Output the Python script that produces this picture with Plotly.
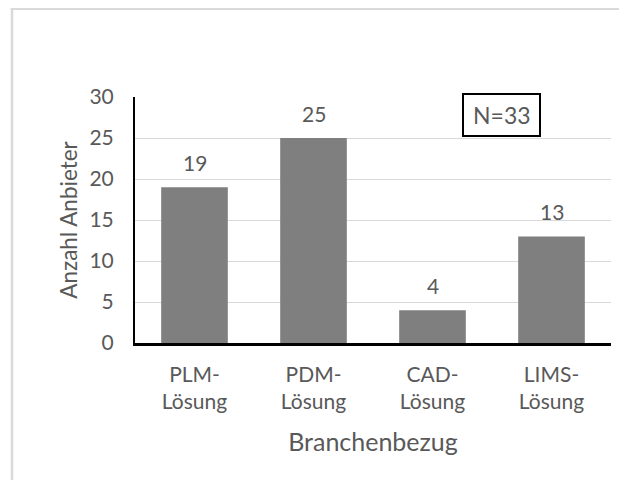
import plotly.graph_objects as go

categories = ["PLM-<br>Lösung", "PDM-<br>Lösung", "CAD-<br>Lösung", "LIMS-<br>Lösung"]
values = [19, 25, 4, 13]
y_ticks = [0, 5, 10, 15, 20, 25, 30]
x_title = "Branchenbezug"
y_title = "Anzahl Anbieter"
note = "N=33"

# page body has an 8px margin, so the figure starts at (8, 8)
OFF = 8
W, H = 627 - 2 * OFF, 488 - 2 * OFF
L, R, T, B = 135 - OFF, 611 - OFF, 97 - OFF, 343 - OFF
pw, ph = R - L, B - T

def px(x):
    return (x - OFF - L) / pw

def py(y):
    return (B - (y - OFF)) / ph

FONT = "Lato"
GREY = "#595959"

fig = go.Figure()
fig.add_trace(go.Bar(
    x=categories, y=values,
    marker=dict(color="#7f7f7f", line=dict(width=0)),
    hoverinfo="skip",
))

for c, v in zip(categories, values):
    fig.add_annotation(x=c, y=v, text=str(v), showarrow=False,
                       yshift=25, font=dict(family=FONT, size=21, color=GREY))

fig.add_annotation(xref="paper", yref="paper", x=px(501.5), y=py(115),
                   xanchor="center", yanchor="middle",
                   text=note, showarrow=False,
                   font=dict(family=FONT, size=23, color=GREY))
fig.add_shape(type="rect", xref="paper", yref="paper",
              x0=px(463), x1=px(540), y0=py(136), y1=py(94),
              line=dict(color="black", width=2), fillcolor="rgba(0,0,0,0)")

# outer chart border (only top and left edges visible)
border = dict(color="#d9d9d9", width=2.5)
fig.add_shape(type="line", xref="paper", yref="paper",
              x0=px(10.8), x1=px(627), y0=py(8.7), y1=py(8.7),
              line=border, layer="below")
fig.add_shape(type="line", xref="paper", yref="paper",
              x0=px(12), x1=px(12), y0=py(7.5), y1=py(488),
              line=border, layer="below")

fig.update_layout(
    width=W, height=H,
    margin=dict(l=L, r=W - R, t=T, b=H - B),
    paper_bgcolor="white", plot_bgcolor="white",
    bargap=0.44,
    showlegend=False,
    font=dict(family=FONT, size=21, color=GREY),
)
fig.update_xaxes(
    showline=True, linecolor="black", linewidth=2.5,
    showgrid=False, ticks="", ticklabelstandoff=11,
    tickfont=dict(family=FONT, size=21, color=GREY),
    title=dict(text=x_title, font=dict(family=FONT, size=25, color=GREY), standoff=22),
)
fig.update_yaxes(
    range=[0, 30], tickvals=y_ticks,
    showline=True, linecolor="black", linewidth=2,
    showgrid=True, gridcolor="#d9d9d9", gridwidth=1.2,
    zeroline=False, ticks="", ticklabelstandoff=15,
    tickfont=dict(family=FONT, size=21, color=GREY),
    title=dict(text=y_title, font=dict(family=FONT, size=22.5, color=GREY), standoff=6),
)

fig.write_html("out.html")
